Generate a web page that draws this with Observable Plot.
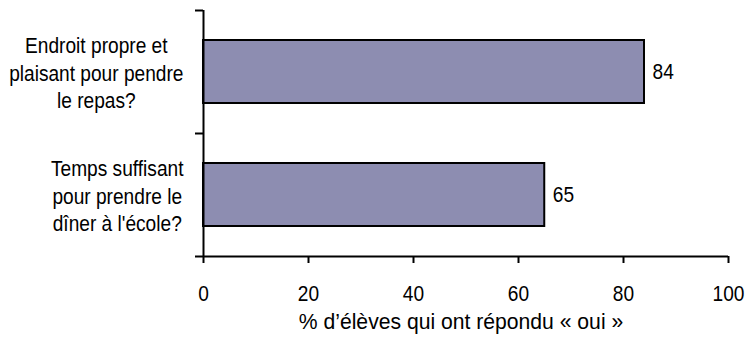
<!DOCTYPE html>
<html>
<head>
<meta charset="utf-8">
<script src="https://cdn.jsdelivr.net/npm/d3@7"></script>
<script src="https://cdn.jsdelivr.net/npm/@observablehq/plot@0.6"></script>
<style>
  html, body { margin: 0; padding: 0; background: #fff; }
  #chart svg g[aria-label^="x-axis"] path,
  #chart svg g[aria-label^="x-axis"] line,
  #chart svg g[aria-label^="y-axis"] path,
  #chart svg g[aria-label^="y-axis"] line { stroke-width: 2px; stroke: #000; }
</style>
</head>
<body>
<div id="chart"></div>
<script>
// Survey questions (one per bar) and the share of students answering "oui"
const questions = [
  "Endroit propre et\nplaisant pour pendre\nle repas?",
  "Temps suffisant\npour prendre le\ndîner à l'école?"
];
const oui = [84, 65];
const xTicks = [0, 20, 40, 60, 80, 100];
const xTitle = "% d’élèves qui ont répondu « oui »";

const rows = questions.map((q, i) => ({ i, question: q, value: oui[i] }));

const fontSize = 22.5;
const fontFamily = "'Liberation Sans', Arial, sans-serif";
const squeeze = 0.85;       // horizontal narrowing of the lettering
const titleSqueeze = 0.94;  // the axis title is set a little wider
const labelGap = 20;        // space between a label block and the y axis

// Width of a wrapped label block = its widest line, after narrowing
const ctx = document.createElement("canvas").getContext("2d");
ctx.font = `${fontSize}px ${fontFamily}`;
const blockWidth = text =>
  d3.max(text.split("\n"), line => ctx.measureText(line).width) * squeeze;

const chart = Plot.plot({
  width: 747,
  height: 341,
  marginLeft: 203,
  marginRight: 19,
  marginTop: 10,
  marginBottom: 85,
  style: { fontFamily, fontSize: `${fontSize}px`, background: "#fff", color: "#000", overflow: "visible" },
  x: {
    domain: [0, 100],
    ticks: xTicks,
    tickSize: 7,
    tickPadding: 22,
    label: null
  },
  y: {
    domain: [0, questions.length],
    reverse: true,
    ticks: d3.range(questions.length + 1),
    tickFormat: () => "",
    tickSize: 8,
    label: null
  },
  marks: [
    // bars, one band per question, inset from the band edges
    Plot.rectX(rows, {
      x1: 0,
      x2: "value",
      y1: "i",
      y2: d => d.i + 1,
      insetTop: 30,
      insetBottom: 30,
      fill: "#8d8db1",
      stroke: "#000",
      strokeWidth: 2
    }),
    // value labels at the end of each bar
    Plot.text(rows, {
      x: "value",
      y: d => d.i + 0.5,
      text: d => String(d.value),
      dx: 8,
      textAnchor: "start",
      fill: "#000"
    }),
    // multi-line question labels: each block sits against the axis,
    // its lines centred within the block
    ...rows.map(r => Plot.text([r], {
      x: 0,
      y: d => d.i + 0.5,
      text: "question",
      dx: -labelGap - blockWidth(r.question) / 2,
      textAnchor: "middle",
      lineAnchor: "middle",
      lineHeight: 1.21,
      fill: "#000"
    })),
    // x-axis title below the tick labels
    Plot.text([xTitle], {
      frameAnchor: "bottom",
      dx: -5,
      dy: 65,
      lineAnchor: "middle",
      textAnchor: "middle",
      fill: "#000",
      className: "x-title"
    }),
    // axis lines
    Plot.ruleX([0], { y1: 0, y2: questions.length, stroke: "#000", strokeWidth: 2 }),
    Plot.ruleY([questions.length], { x1: 0, x2: 100, stroke: "#000", strokeWidth: 2 })
  ]
});

// Narrow the lettering horizontally around each text's own anchor point
d3.select(chart).selectAll("text").each(function () {
  const isTitle = this.textContent === xTitle;
  const k = isTitle ? titleSqueeze : squeeze;
  const t = this.getAttribute("transform") || "";
  this.setAttribute("transform", `${t} scale(${k},1)`.trim());
});

document.getElementById("chart").appendChild(chart);
</script>
</body>
</html>
